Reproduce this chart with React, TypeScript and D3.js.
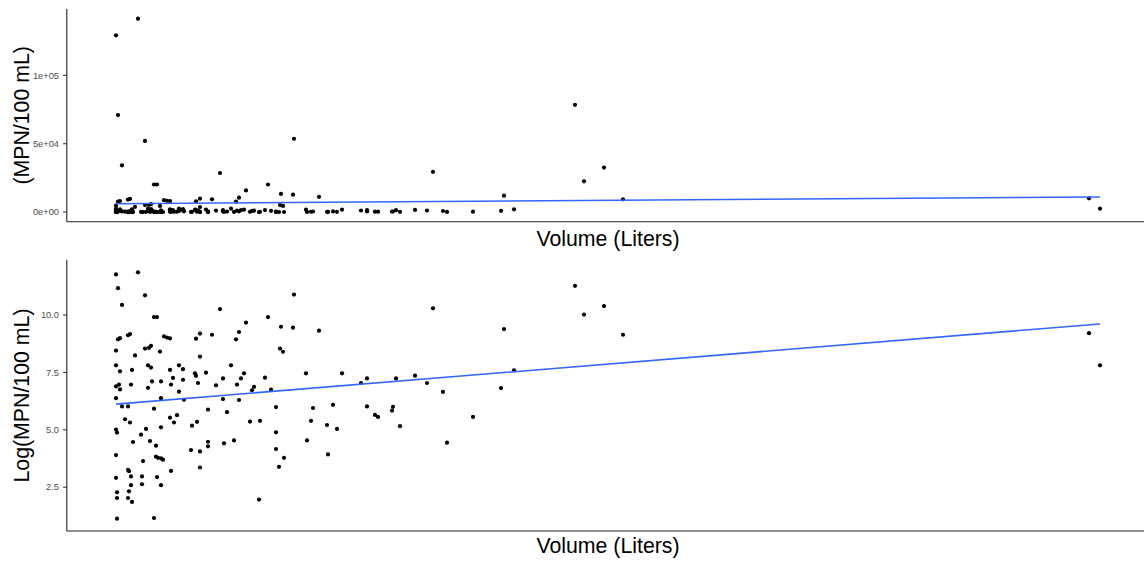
import { useEffect, useRef } from "react";
import * as d3 from "d3";

// volume (arbitrary liters scale) and log(MPN/100 mL) for each sample
const volume = [
  10, 32, 12, 39, 16, 48, 51, 12, 14, 22,
  24, 58, 61, 64, 10, 39, 43, 45, 54, 29,
  10, 14, 26, 42, 45, 64, 73, 77, 67, 77,
  46, 55, 65, 10, 13, 14, 25, 42, 73, 10,
  55, 78, 16, 22, 48, 19, 24, 64, 71, 68,
  10, 11, 40, 35, 55, 27, 44, 50, 10, 50,
  52, 55, 57, 37, 22, 23, 65, 10, 25, 36,
  51, 25, 36, 55, 23, 11, 11, 22, 26, 11,
  48,
  114, 140, 90, 94, 106, 133, 130, 94, 89, 90,
  100, 125, 138, 135, 117, 92, 110, 131, 148, 146,
  159, 117, 133, 102, 121, 86, 91, 144, 154, 102,
  102, 118, 128, 85, 94, 94, 153,
  188, 162, 175, 187, 213, 174, 177, 200, 236, 165,
  170, 207, 227, 205, 221, 231, 170, 201, 170, 178,
  173, 222,
  255, 261, 290, 309, 261, 269, 272, 286, 287, 294,
  321, 327, 337, 341, 367, 395, 398, 408, 469, 478,
  498, 517,
  983, 994,
];

const logMpn = [
  11.77, 11.86, 11.17, 10.86, 10.44, 9.91, 9.91, 8.94, 8.99, 9.12,
  9.17, 9.07, 9.02, 8.98, 8.45, 8.54, 8.57, 8.66, 8.41, 8.24,
  7.81, 7.55, 7.61, 7.81, 7.71, 7.61, 7.81, 7.64, 7.26, 7.18,
  7.11, 7.11, 6.97, 6.89, 6.97, 6.76, 6.97, 6.83, 6.66, 6.38,
  6.38, 6.31, 6.02, 6.02, 5.92, 5.46, 5.32, 5.53, 5.64, 5.32,
  5.01, 4.88, 5.04, 4.79, 5.11, 4.47, 4.51, 4.31, 3.9, 3.83,
  3.78, 3.76, 3.7, 3.64, 3.26, 3.2, 3.21, 2.91, 2.97, 2.97,
  2.94, 2.59, 2.63, 2.59, 2.32, 2.28, 2.03, 2.03, 1.86, 1.13,
  1.16,
  10.26, 9.67, 8.97, 9.19, 9.14, 9.26, 8.94, 8.19, 7.46, 7.35,
  7.49, 7.81, 7.46, 7.24, 7.24, 7.04, 6.94, 6.97, 6.87, 6.72,
  7.27, 6.34, 6.3, 5.88, 5.77, 5.18, 5.35, 5.36, 5.39, 4.48,
  4.28, 4.41, 4.54, 4.12, 4.06, 3.36, 1.96,
  10.89, 9.91, 9.49, 9.45, 9.32, 8.54, 8.4, 7.46, 7.46, 6.75,
  5.99, 5.95, 6.09, 5.39, 5.21, 5.04, 4.89, 4.54, 4.16, 3.78,
  3.39, 3.93,
  7.04, 7.24, 7.24, 7.36, 6.02, 5.65, 5.56, 5.84, 6.0, 5.16,
  7.04, 10.29, 6.65, 4.44, 5.56, 6.82, 9.39, 7.59, 11.27, 10.02,
  10.39, 9.14,
  9.21, 7.81,
];

// linear fits (geom_smooth, method = lm) at the ends of the volume range
const fitVolume = [10, 994];
const fitMpn = [6100, 11000];
const fitLog = [6.12, 9.61];

const mpnTicks = [0, 50000, 100000];
const mpnTickLabels = ["0e+00", "5e+04", "1e+05"];
const logTicks = [2.5, 5, 7.5, 10];
const logTickLabels = ["2.5", "5.0", "7.5", "10.0"];

export default function App() {
  const ref = useRef<SVGSVGElement>(null);

  useEffect(() => {
    document.body.style.margin = "0";
    const svg = d3.select(ref.current);
    svg.selectAll("*").remove();

    const width = 1144;
    const height = 561;
    const font = "'Liberation Sans', Arial, sans-serif";
    const left = 66.8;
    const right = 1149.2;

    const expand = (lo: number, hi: number) => {
      const pad = (hi - lo) * 0.05;
      return [lo - pad, hi + pad];
    };

    svg.attr("width", width).attr("height", height);

    const x = d3.scaleLinear()
      .domain(expand(d3.min(volume)!, d3.max(volume)!))
      .range([left, right]);

    const mpn = logMpn.map(v => Math.exp(v));

    function panel(
      top: number,
      bottom: number,
      values: number[],
      fit: number[],
      ticks: number[],
      labels: string[],
      yTitle: string,
      xTitleY: number
    ) {
      const y = d3.scaleLinear()
        .domain(expand(d3.min(values)!, d3.max(values)!))
        .range([bottom, top]);

      const g = svg.append("g");

      // points
      g.selectAll("circle")
        .data(volume)
        .enter()
        .append("circle")
        .attr("cx", d => x(d))
        .attr("cy", (_, i) => y(values[i]))
        .attr("r", 2.1)
        .attr("fill", "#000");

      // regression line
      const line = d3.line<number>()
        .x(d => x(d))
        .y((_, i) => y(fit[i]));
      g.append("path")
        .datum(fitVolume)
        .attr("d", line)
        .attr("fill", "none")
        .attr("stroke", "#3366FF")
        .attr("stroke-width", 1.6);

      // axis lines
      g.append("line")
        .attr("x1", left).attr("x2", left)
        .attr("y1", top).attr("y2", bottom)
        .attr("stroke", "#222").attr("stroke-width", 1.1);
      g.append("line")
        .attr("x1", left).attr("x2", width)
        .attr("y1", bottom).attr("y2", bottom)
        .attr("stroke", "#222").attr("stroke-width", 1.1);

      // y ticks
      ticks.forEach((t, i) => {
        g.append("line")
          .attr("x1", left - 3.7).attr("x2", left)
          .attr("y1", y(t)).attr("y2", y(t))
          .attr("stroke", "#333").attr("stroke-width", 1.1);
        g.append("text")
          .attr("x", left - 7.8)
          .attr("y", y(t))
          .attr("dy", "0.35em")
          .attr("text-anchor", "end")
          .attr("font-family", font)
          .attr("font-size", "9.3px")
          .attr("fill", "#4D4D4D")
          .text(labels[i]);
      });

      g.append("text")
        .attr("transform", `translate(29,${(top + bottom) / 2}) rotate(-90)`)
        .attr("text-anchor", "middle")
        .attr("font-family", font)
        .attr("font-size", "21.3px")
        .attr("fill", "#000")
        .text(yTitle);

      g.append("text")
        .attr("x", (left + right) / 2)
        .attr("y", xTitleY)
        .attr("text-anchor", "middle")
        .attr("font-family", font)
        .attr("font-size", "21.3px")
        .attr("fill", "#000")
        .text("Volume (Liters)");
    }

    panel(9, 221.7, mpn, fitMpn, mpnTicks, mpnTickLabels, "(MPN/100 mL)", 246);
    panel(260, 531, logMpn, fitLog, logTicks, logTickLabels, "Log(MPN/100 mL)", 553);
  }, []);

  return <svg ref={ref} style={{ display: "block" }}></svg>;
}
